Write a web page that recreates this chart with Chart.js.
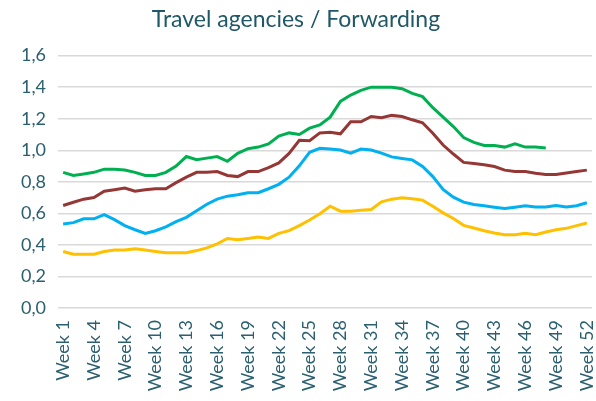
<!DOCTYPE html>
<html>
<head>
<meta charset="utf-8">
<script src="https://cdn.jsdelivr.net/npm/chart.js@4"></script>
<style>
  body { margin: 0; background: #fff; }
</style>
</head>
<body>
<canvas id="chart" width="596" height="401"></canvas>
<script>
// weekly index values
const weeks = Array.from({ length: 52 }, (_, i) => 'Week ' + (i + 1));

const greenSeries = [0.86, 0.84, 0.85, 0.86, 0.88, 0.88, 0.875, 0.86, 0.84, 0.84, 0.86, 0.90, 0.96, 0.94, 0.95, 0.96, 0.93, 0.98,
  1.01, 1.02, 1.04, 1.09, 1.11, 1.10, 1.14, 1.16, 1.21, 1.31, 1.35, 1.38, 1.40, 1.40, 1.40, 1.39, 1.36, 1.34,
  1.27, 1.21, 1.15, 1.08, 1.05, 1.03, 1.03, 1.02, 1.04, 1.02, 1.02, 1.015, null, null, null, null];

const redSeries = [0.65, 0.67, 0.69, 0.70, 0.74, 0.75, 0.76, 0.74, 0.75, 0.756, 0.756, 0.795, 0.83, 0.86, 0.86, 0.865, 0.84, 0.833,
  0.865, 0.865, 0.89, 0.92, 0.98, 1.063, 1.06, 1.11, 1.114, 1.104, 1.18, 1.18, 1.214, 1.206, 1.221, 1.214, 1.193, 1.174,
  1.108, 1.033, 0.976, 0.923, 0.916, 0.908, 0.897, 0.874, 0.865, 0.865, 0.854, 0.846, 0.846, 0.856, 0.865, 0.874];

const blueSeries = [0.533, 0.541, 0.565, 0.565, 0.592, 0.56, 0.522, 0.496, 0.473, 0.49, 0.514, 0.548, 0.575, 0.616, 0.658, 0.69, 0.709, 0.718,
  0.731, 0.731, 0.756, 0.784, 0.829, 0.901, 0.987, 1.012, 1.008, 1.001, 0.982, 1.008, 1.001, 0.982, 0.958, 0.948, 0.939, 0.897,
  0.833, 0.752, 0.703, 0.671, 0.656, 0.648, 0.639, 0.631, 0.639, 0.648, 0.641, 0.641, 0.65, 0.641, 0.648, 0.667];

const yellowSeries = [0.358, 0.341, 0.341, 0.341, 0.358, 0.367, 0.367, 0.375, 0.367, 0.358, 0.35, 0.35, 0.35, 0.364, 0.381, 0.407, 0.441, 0.433,
  0.441, 0.45, 0.441, 0.473, 0.49, 0.522, 0.558, 0.598, 0.645, 0.614, 0.614, 0.62, 0.624, 0.673, 0.69, 0.699, 0.693, 0.684,
  0.645, 0.603, 0.567, 0.524, 0.507, 0.49, 0.475, 0.465, 0.465, 0.473, 0.465, 0.482, 0.496, 0.505, 0.522, 0.539];

const yTicks = [0, 0.2, 0.4, 0.6, 0.8, 1.0, 1.2, 1.4, 1.6];

const textColor = '#2B6070';
const fontFamily = 'Lato, "Open Sans", sans-serif';

function lineSet(label, data, color) {
    return {
        label: label,
        data: data,
        borderColor: color,
        backgroundColor: color,
        borderWidth: 3,
        pointRadius: 0,
        tension: 0,
        fill: false,
    };
}

const ctx = document.getElementById('chart').getContext('2d');
new Chart(ctx, {
    type: 'line',
    data: {
        labels: weeks,
        datasets: [
            lineSet('Green', greenSeries, '#00B050'),
            lineSet('Red', redSeries, '#953735'),
            lineSet('Blue', blueSeries, '#00B0F0'),
            lineSet('Yellow', yellowSeries, '#FFC000'),
        ],
    },
    options: {
        responsive: false,
        animation: false,
        layout: { padding: { top: 6, right: 4, left: 0, bottom: 0 } },
        plugins: {
            legend: { display: false },
            tooltip: { enabled: false },
            title: {
                display: true,
                text: 'Travel agencies / Forwarding',
                color: '#1F5866',
                font: { family: fontFamily, size: 23, weight: 'normal' },
                padding: { top: 0, bottom: 22 },
            },
        },
        scales: {
            x: {
                offset: true,
                grid: { display: false },
                border: { display: false },
                ticks: {
                    autoSkip: false,
                    maxRotation: 90,
                    minRotation: 90,
                    color: textColor,
                    font: { family: fontFamily, size: 18 },
                    padding: 4,
                    callback: function (value, index) {
                        return index % 3 === 0 ? this.getLabelForValue(value) : '';
                    },
                },
                afterFit: (scale) => {
                    scale.height = 93;
                    scale.paddingLeft = 0;
                    scale.paddingRight = 0;
                },
            },
            y: {
                min: 0,
                max: 1.6,
                afterBuildTicks: (scale) => { scale.ticks = yTicks.map((v) => ({ value: v })); },
                grid: { color: '#D9D9D9', lineWidth: 1.5, drawTicks: false },
                border: { display: false },
                ticks: {
                    color: textColor,
                    font: { family: fontFamily, size: 18 },
                    padding: 12,
                    callback: (value) => value.toFixed(1).replace('.', ','),
                },
                afterFit: (scale) => { scale.width = 58; },
            },
        },
    },
});
</script>
</body>
</html>
